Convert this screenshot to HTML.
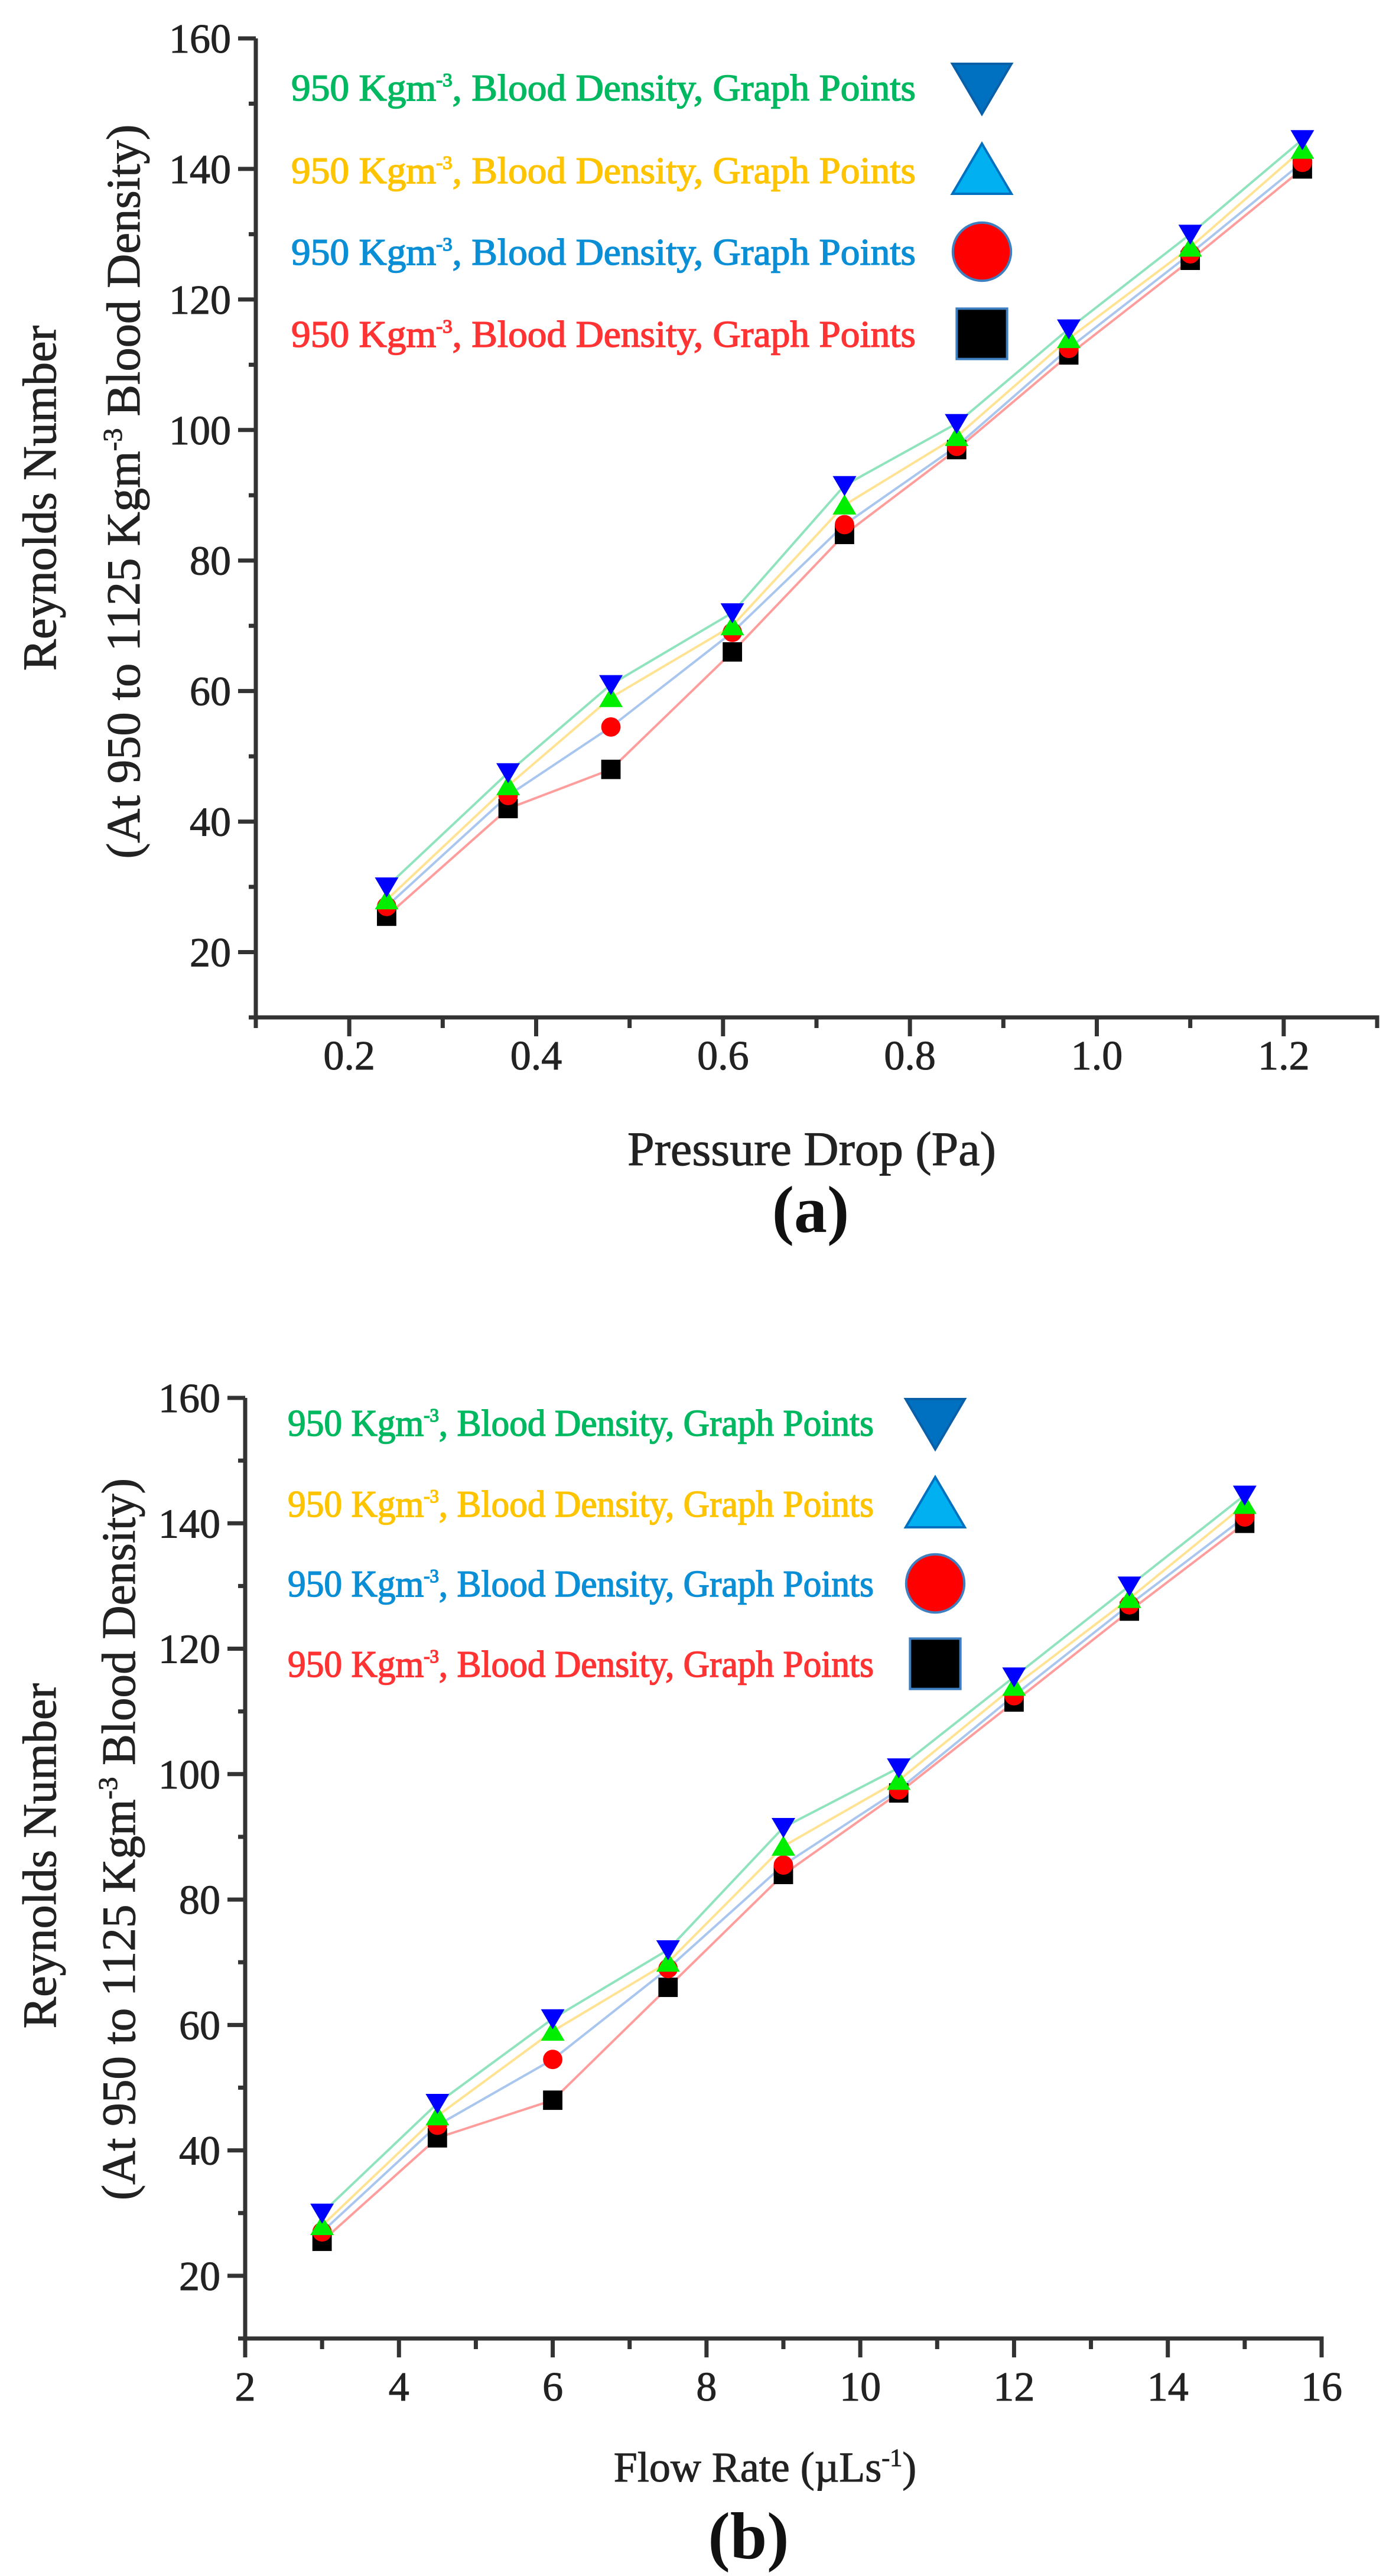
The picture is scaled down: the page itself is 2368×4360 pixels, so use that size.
<!DOCTYPE html>
<html><head><meta charset="utf-8"><style>
html,body{margin:0;padding:0;background:#fff;}
svg{display:block;font-family:"Liberation Serif",serif;}
</style></head><body>
<svg id="root" width="2368" height="4360" viewBox="0 0 2368 4360" xmlns="http://www.w3.org/2000/svg"></svg>
<script>
// ---- data ----
const xPressure = [0.24,0.37,0.48,0.61,0.73,0.85,0.97,1.10,1.22];
const xFlow = [3,4.5,6,7.5,9,10.5,12,13.5,15];
const reDown = [30,47.5,61,72,91.5,101,115.5,130,144.5];
const reUp = [28,45.5,59,70,88.5,99,114,128,143];
const reCircle = [27,44,54.5,69,85.5,97.5,112.5,127,141];
const reSquare = [25.5,42,48,66,84,97,111.5,126,140];
const yTicks = [20,40,60,80,100,120,140,160];
const xTicksA = [0.2,0.4,0.6,0.8,1.0,1.2];
const xTickLabelsA = ["0.2","0.4","0.6","0.8","1.0","1.2"];
const xTicksB = [2,4,6,8,10,12,14,16];
const xTickLabelsB = ["2","4","6","8","10","12","14","16"];

const NS="http://www.w3.org/2000/svg";
const root=document.getElementById('root');
function el(tag,attrs,parent){const e=document.createElementNS(NS,tag);for(const k in attrs)e.setAttribute(k,attrs[k]);(parent||root).appendChild(e);return e;}

const charts=[
 {id:'a',xs:xPressure,xmin:0.1,xmax:1.3,minor:0.1,ticks:xTicksA,labels:xTickLabelsA,
  L:433,R:2331,T:65,B:1722,ymin:10,ymax:160,
  legX:493,legW:1057,legBase:[170,310,448,587],legMX:1662,
  yt1:{x:68,y:843},yt2:{x:210,y:832},yt2len:1243,
  xt:{x:1374,y:1972,text:'Pressure Drop (Pa)'},tag:{x:1372,y:2085,text:'(a)'},tickBase:1810},
 {id:'b',xs:xFlow,xmin:2,xmax:16,minor:1,ticks:xTicksB,labels:xTickLabelsB,
  L:415,R:2237,T:2366,B:3958,ymin:10,ymax:160,
  legX:487,legW:992,legBase:[2430,2567,2702,2838],legMX:1583,
  yt1:{x:68,y:3141},yt2:{x:202,y:3113},yt2len:1222,
  xt:{x:1295,y:4200,text:'Flow Rate (µLs'},tag:{x:1267,y:4330,text:'(b)'},tickBase:4063}
];

const series=[
 {vals:reDown,line:'#8fe3bd',shape:'down',fill:'#0000ff',name:'down-triangle'},
 {vals:reUp,line:'#ffe392',shape:'up',fill:'#00ee00',name:'up-triangle'},
 {vals:reCircle,line:'#a9c6ef',shape:'circle',fill:'#ff0000',name:'circle'},
 {vals:reSquare,line:'#ff9d9d',shape:'square',fill:'#000000',name:'square'}
];
const legendColors=['#00b860','#ffc400','#0a8fd6','#ff3333'];
const legendMarkers=[
 {shape:'down',fill:'#0070c0',stroke:'#0a60a8'},
 {shape:'up',fill:'#00b0f0',stroke:'#0070c0'},
 {shape:'circle',fill:'#ff0000',stroke:'#3d7fc0'},
 {shape:'square',fill:'#000000',stroke:'#3d7fc0'}
];

function marker(g,shape,cx,cy,s,fill,stroke,sw){
  let m;
  if(shape==='down') m=el('polygon',{points:`${cx-s},${cy-s*0.8} ${cx+s},${cy-s*0.8} ${cx},${cy+s*0.9}`},g);
  else if(shape==='up') m=el('polygon',{points:`${cx-s},${cy+s*0.8} ${cx+s},${cy+s*0.8} ${cx},${cy-s*0.9}`},g);
  else if(shape==='circle') m=el('circle',{cx:cx,cy:cy,r:s*0.82},g);
  else m=el('rect',{x:cx-s*0.82,y:cy-s*0.82,width:s*1.64,height:s*1.64},g);
  m.setAttribute('fill',fill);
  if(stroke){m.setAttribute('stroke',stroke);m.setAttribute('stroke-width',sw);}
  return m;
}

charts.forEach(c=>{
  const g=el('g',{});
  
  
  const X=v=>c.L+(v-c.xmin)/(c.xmax-c.xmin)*(c.R-c.L);
  const Y=v=>c.B-(v-c.ymin)/(c.ymax-c.ymin)*(c.B-c.T);
  const ax=el('path',{d:`M${c.L},${c.T} V${c.B} H${c.R} V${c.B+16}`,fill:'none',stroke:'#333',['stroke-width']:7},g);
  
  
  for(let v=c.ymin;v<=c.ymax;v+=10){
    const major=v%20===0;
    const t=el('line',{x1:c.L-(major?30:12),x2:c.L,y1:Y(v),y2:Y(v),stroke:'#333','stroke-width':7},g);
    
    
  }
  yTicks.forEach(v=>{
    const t=el('text',{x:c.L-42,y:Y(v)+24,'text-anchor':'end','font-size':70,fill:'#222',stroke:'#222','stroke-width':1},g);
    t.textContent=String(v);
    
    
  });
  const n=Math.round((c.xmax-c.xmin)/c.minor);
  for(let i=0;i<=n;i++){
    const v=c.xmin+i*c.minor;
    const major=c.ticks.some(t=>Math.abs(t-v)<1e-6);
    const t=el('line',{x1:X(v),x2:X(v),y1:c.B,y2:c.B+(major?32:18),stroke:'#333','stroke-width':7},g);
    
    
  }
  c.ticks.forEach((v,i)=>{
    const t=el('text',{x:X(v),y:c.tickBase,'text-anchor':'middle','font-size':70,fill:'#222',stroke:'#222','stroke-width':1},g);
    t.textContent=c.labels[i];
    
    
  });
  series.forEach(s=>{
    const pts=c.xs.map((x,i)=>`${X(x)},${Y(s.vals[i])}`).join(' ');
    const p=el('polyline',{points:pts,fill:'none',stroke:s.line,'stroke-width':4},g);
    
    
  });
  [3,2,1,0].forEach(si=>{
    const s=series[si];
    c.xs.forEach((x,i)=>{
      const m=marker(g,s.shape,X(x),Y(s.vals[i]),20,s.fill);
      
      
    });
  });
  c.legBase.forEach((b,i)=>{
    const t=el('text',{x:c.legX,y:b,'font-size':64,fill:legendColors[i],stroke:legendColors[i],'stroke-width':1.5,textLength:c.legW,lengthAdjust:'spacingAndGlyphs'},g);
    t.innerHTML='950 Kgm<tspan dy="-24" font-size="32">-3</tspan><tspan dy="24">, Blood Density, Graph Points</tspan>';
    
    
    const lm=legendMarkers[i];
    const m=marker(g,lm.shape,c.legMX,b-22,lm.shape==='circle'?60:(lm.shape==='square'?52:50),lm.fill,lm.stroke,4);
    
    
  });
  const y1=el('text',{x:c.yt1.x,y:c.yt1.y,'text-anchor':'middle','font-size':80,fill:'#222',stroke:'#222','stroke-width':1,transform:`rotate(-90 ${c.yt1.x} ${c.yt1.y})`,dy:26},g);
  y1.textContent='Reynolds Number';
  
  
  const y2=el('text',{x:c.yt2.x,y:c.yt2.y,'text-anchor':'middle','font-size':80,fill:'#222',stroke:'#222','stroke-width':1,transform:`rotate(-90 ${c.yt2.x} ${c.yt2.y})`,dy:26,textLength:c.yt2len,lengthAdjust:'spacingAndGlyphs'},g);
  y2.innerHTML='(At 950 to 1125 Kgm<tspan dy="-30" font-size="46">-3</tspan><tspan dy="30"> Blood Density)</tspan>';
  
  
  const xt=el('text',{x:c.xt.x,y:c.xt.y,'text-anchor':'middle','font-size':c.id==='a'?82:72,fill:'#222',stroke:'#222','stroke-width':1},g);
  if(c.id==='a') xt.textContent=c.xt.text;
  else xt.innerHTML='Flow Rate (µLs<tspan dy="-26" font-size="42">-1</tspan><tspan dy="26">)</tspan>';
  
  
  const tg=el('text',{x:c.tag.x,y:c.tag.y,'text-anchor':'middle','font-size':112,'font-weight':'bold',fill:'#111'},g);
  tg.textContent=c.tag.text;
  
  
});
</script>
</body></html>
